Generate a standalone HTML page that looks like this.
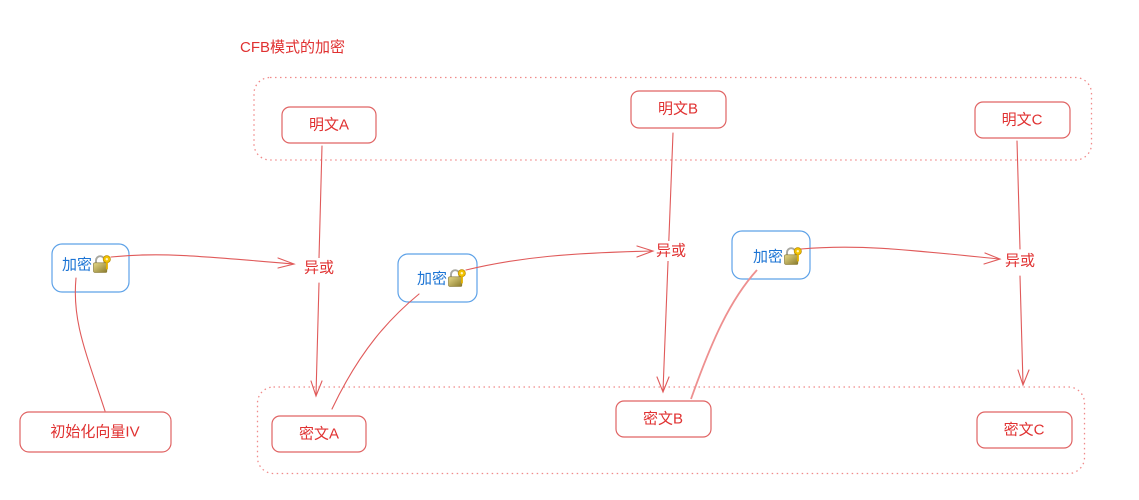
<!DOCTYPE html>
<html><head><meta charset="utf-8"><style>
html,body{margin:0;padding:0;background:#fff;}
svg{display:block;}
text{font-family:"Liberation Sans","Noto Sans CJK SC",sans-serif;}
</style></head><body>
<svg width="1139" height="500" viewBox="0 0 1139 500" xmlns="http://www.w3.org/2000/svg">
<defs>
<linearGradient id="lg" x1="0" y1="0" x2="1" y2="1">
<stop offset="0" stop-color="#e6d98a"/><stop offset="1" stop-color="#8a7b2c"/>
</linearGradient>
<g id="lock">
<path d="M2.5 7 V4.5 A3.5 3.5 0 0 1 9.5 4.5 V7" fill="none" stroke="#a8a8a0" stroke-width="1.6"/>
<rect x="0.5" y="6.5" width="11" height="8" rx="1" fill="url(#lg)" stroke="#8a7a30" stroke-width="0.6"/>
<circle cx="11.5" cy="3.5" r="3" fill="#f2c200" stroke="#b88a00" stroke-width="0.6"/>
<circle cx="11.5" cy="3.5" r="1" fill="#fff6c0"/>
<rect x="10.8" y="6" width="1.6" height="6" fill="#e0b000"/>
</g>
</defs>

<!-- title -->
<text x="240" y="52" font-size="15" fill="#e03131">CFB模式的加密</text>

<!-- dotted containers -->
<rect x="254" y="77.5" width="837.5" height="82.5" rx="16" fill="none" stroke="#f08a8a" stroke-width="1.3" stroke-dasharray="1.5 3.5"/>
<rect x="257.5" y="387" width="827" height="86.5" rx="16" fill="none" stroke="#f08a8a" stroke-width="1.3" stroke-dasharray="1.5 3.5"/>

<!-- red boxes -->
<g fill="#fff" stroke="#e06363" stroke-width="1.2">
<rect x="282" y="107" width="94" height="36" rx="8"/>
<rect x="631" y="91" width="95" height="37" rx="8"/>
<rect x="975" y="102" width="95" height="36" rx="8"/>
<rect x="20" y="412" width="151" height="40" rx="9"/>
<rect x="272" y="416" width="94" height="36" rx="8"/>
<rect x="616" y="401" width="95" height="36" rx="8"/>
<rect x="977" y="412" width="95" height="36" rx="8"/>
</g>

<!-- blue boxes -->
<g fill="#fff" stroke="#5ea2e8" stroke-width="1.2">
<rect x="52" y="244" width="77" height="48" rx="10"/>
<rect x="398" y="254" width="79" height="48" rx="10"/>
<rect x="732" y="231" width="78" height="48" rx="10"/>
</g>

<!-- connectors -->
<g fill="none" stroke="#e05a5a" stroke-width="1.1" stroke-linecap="round">
<path d="M322 146 L319 258"/>
<path d="M319 283 L316 395"/>
<polyline points="311,381 316,396 322,381"/>
<path d="M111 257 C160 252 200 256 293 264"/>
<polyline points="278,258 294,264 278,268"/>
<path d="M76 278 C72 320 85 350 105 411"/>
<path d="M673 133 L663 391"/>
<polyline points="657,377 663,392 669,377"/>
<path d="M466 270 C520 257 570 253 652 251"/>
<polyline points="637,246 653,251 637,257"/>
<path d="M419 294 C390 318 360 350 332 409"/>
<path d="M801 249 C860 244 910 250 999 259"/>
<polyline points="985,253 1000,259 984,264"/>
<path d="M1017 141 L1020 249"/>
<path d="M1020 276 L1023 384"/>
<polyline points="1018,370 1023,385 1029,370"/>
</g>
<path d="M757 270 C730 300 712 340 691 399" fill="none" stroke="#ee9090" stroke-width="1.8"/>

<!-- red labels -->
<g font-size="15" fill="#e03131" text-anchor="middle" dominant-baseline="central">
<text x="329" y="125">明文A</text>
<text x="678" y="109">明文B</text>
<text x="1022" y="120">明文C</text>
<text x="95" y="432">初始化向量IV</text>
<text x="319" y="434">密文A</text>
<text x="663" y="419">密文B</text>
<text x="1024" y="430">密文C</text>
</g>
<g font-size="15" fill="#e03131" text-anchor="middle" dominant-baseline="central">
<rect x="303" y="258" width="32" height="20" fill="#fff"/>
<text x="319" y="268">异或</text>
<rect x="655" y="241" width="32" height="20" fill="#fff"/>
<text x="671" y="251">异或</text>
<rect x="1004" y="251" width="32" height="20" fill="#fff"/>
<text x="1020" y="261">异或</text>
</g>

<!-- blue labels -->
<g font-size="15" fill="#1c74d4" dominant-baseline="central">
<text x="62" y="265">加密</text>
<text x="417" y="279">加密</text>
<text x="753" y="257">加密</text>
</g>
<use href="#lock" transform="translate(93,255) scale(1.2)"/>
<use href="#lock" transform="translate(448,269) scale(1.2)"/>
<use href="#lock" transform="translate(784,247) scale(1.2)"/>
</svg>
</body></html>
